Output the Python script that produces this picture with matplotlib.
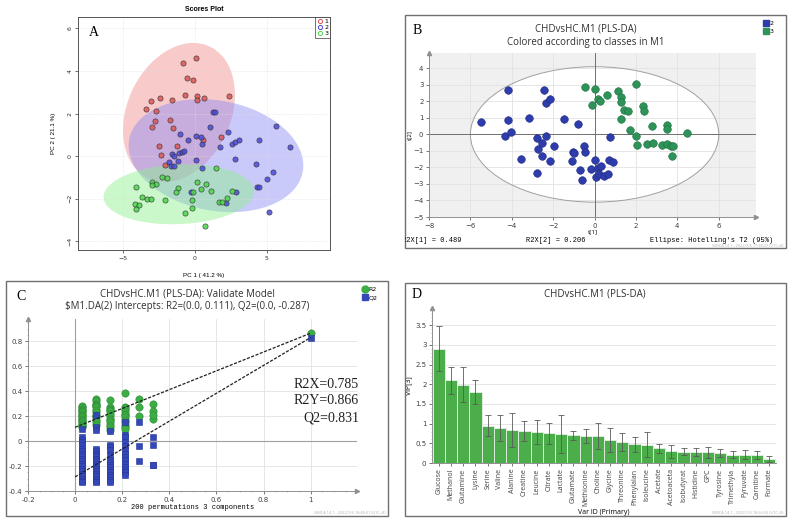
import numpy as np
import matplotlib
matplotlib.use("Agg")
import matplotlib.pyplot as plt
from matplotlib.patches import Rectangle, Polygon, Ellipse
from matplotlib.lines import Line2D
from matplotlib.ticker import MultipleLocator

W, H = 792, 522

# ---------------- Panel A: PCA scores ----------------
a_x1 = [-0.81, 0.07, -0.51, -0.09, -0.69, 0.19, 0.63, 0.14, 2.38, -3.06, -2.41, -1.57,
        -3.40, -2.71, -1.69, -2.78, -2.99, -1.48, 1.81, 0.60, -2.48, -1.25, -2.34, -2.06]
a_y1 = [4.38, 4.63, 3.67, 3.59, 2.85, 2.81, 2.75, 2.62, 2.82, 2.57, 2.73, 2.62,
        2.21, 2.13, 1.71, 1.66, 1.36, 1.30, 0.89, 0.77, 0.47, 0.47, 0.06, -0.42]
a_x2 = [1.30, 1.41, 1.09, -1.04, 0.12, 0.46, -0.44, 0.49, 2.29, 2.59, 2.82, 3.06, 1.76,
        4.47, 5.63, 6.64, -1.55, -1.41, -1.11, -0.88, -0.76, -1.78, -1.67, -1.41, -1.16,
        0.09, 0.51, 2.82, 4.26, 5.42, 5.05, 4.35, 4.47, 2.85, -0.28, 2.20, 5.19]
a_y2 = [2.07, 2.07, 1.35, 1.02, 0.93, 0.88, 0.74, 0.56, 1.13, 0.55, 0.67, 0.75, 0.41,
        0.74, 1.43, 0.41, 0.09, 0.02, 0.13, 0.19, 0.24, -0.27, -0.47, -0.47, -0.25,
        -0.17, -0.55, -0.13, -0.38, -0.77, -1.10, -1.46, -1.46, -1.68, -1.68, -2.23, -2.62]
a_x3 = [1.46, -2.25, -1.94, -2.94, -2.71, -2.99, -4.05, 0.16, 0.79, -1.18, 0.44, -1.27,
        -0.12, 1.16, 2.62, -3.68, -3.29, -3.06, -2.06, -0.16, 2.27, 1.67, 1.88, -4.17,
        -3.87, -4.05, -0.19, -0.69, 0.69]
a_y3 = [-0.58, -1.00, -1.02, -1.22, -1.33, -1.38, -1.47, -1.24, -1.33, -1.49, -1.55, -1.71,
        -1.71, -1.66, -1.65, -1.91, -2.01, -2.01, -2.07, -2.05, -1.96, -2.15, -2.15, -2.27,
        -2.31, -2.49, -2.43, -2.68, -3.31]
# confidence ellipses: centre and two semi-axis vectors
a_ell_c = [(-1.09, 2.05), (1.48, 0.02), (-1.09, -1.80)]
a_ell_u = [(2.13, 3.10), (6.02, -0.78), (5.23, 0.16)]
a_ell_v = [(3.25, -1.03), (0.74, 2.54), (-0.12, 1.40)]

# ---------------- Panel B: PLS-DA scores ----------------
b_x2 = [-5.50, -4.19, -4.16, -4.32, -4.05, -3.16, -3.56, -2.79, -2.76, -2.73, -2.56, -2.52,
        -2.35, -2.44, -2.35, -2.16, -2.15, -1.97, -1.50, -1.06, -1.00, -1.11, -0.81, -0.69,
        -0.60, -0.50, -0.44, -0.15, 0.00, 0.06, 0.16, 0.31, 0.21, 0.45, 0.65, 0.76, 0.71, 0.90]
b_y2 = [0.77, 2.70, 0.85, -0.08, 0.16, 0.99, -1.46, -2.33, -0.24, -0.91, -1.32, -0.49,
        -0.10, 2.66, 1.93, 2.17, -1.58, -0.73, 0.93, -1.05, -1.12, -1.60, 0.65, -2.15,
        -2.76, -0.69, -1.05, -2.07, -1.52, -2.60, -2.01, -1.91, -2.37, -2.49, -2.37, -0.16,
        -1.52, -1.64]
b_x3 = [-0.44, 0.03, 0.15, 0.24, -0.13, 0.58, 1.11, 1.29, 1.29, 1.40, 1.63, 1.27, 2.00,
        2.34, 2.39, 1.73, 1.98, 2.05, 2.52, 2.81, 2.77, 3.24, 3.48, 3.50, 3.52, 3.68, 3.77,
        3.76, 4.47]
b_y3 = [2.86, 2.74, 2.17, 2.05, 1.81, 2.39, 2.64, 2.25, 1.97, 1.48, 1.42, 0.93, 3.08,
        1.70, 1.40, 0.24, -0.08, -0.67, -0.59, -0.49, 0.51, -0.63, 0.57, 0.30, -0.59, -0.69,
        -0.73, -1.30, 0.06]
b_t2_a, b_t2_b = 6.0, 4.1   # Hotelling T2 ellipse half-axes

# ---------------- Panel C: permutation test ----------------
c_cols = [0.03, 0.09, 0.15, 0.21, 0.27, 0.33]
c_r2 = [
    [0.28, 0.27, 0.26, 0.25, 0.24, 0.23, 0.22, 0.21, 0.20, 0.19, 0.18, 0.17, 0.16, 0.15, 0.14, 0.13, 0.12, 0.11],
    [0.34, 0.32, 0.30, 0.29, 0.28, 0.27, 0.25, 0.23, 0.21, 0.20, 0.19, 0.17, 0.15, 0.13],
    [0.33, 0.27, 0.26, 0.25, 0.24, 0.22, 0.20, 0.18, 0.17, 0.15, 0.13, 0.11, 0.09],
    [0.39, 0.27, 0.26, 0.24, 0.22, 0.21, 0.19, 0.17, 0.15, 0.13, 0.11, 0.10],
    [0.34, 0.27, 0.20],
    [0.30, 0.24, 0.18, 0.21],
]
c_q2 = [
    [0.10, 0.03, 0.01, -0.01, -0.03, -0.06, -0.08, -0.10, -0.12, -0.14, -0.16, -0.18, -0.20,
     -0.22, -0.24, -0.26, -0.28, -0.30, -0.32, -0.33],
    [0.21, 0.11, 0.09, -0.06, -0.08, -0.10, -0.12, -0.14, -0.16, -0.18, -0.20, -0.22, -0.24,
     -0.26, -0.28, -0.30, -0.32, -0.33],
    [0.08, -0.03, -0.05, -0.07, -0.11, -0.15, -0.17, -0.19, -0.21, -0.23, -0.25, -0.27, -0.29,
     -0.31, -0.33],
    [0.15, 0.05, 0.03, -0.01, -0.04, -0.07, -0.10, -0.13, -0.15, -0.18, -0.21, -0.23, -0.25, -0.27],
    [0.155, -0.04, -0.16],
    [0.03, -0.03, -0.19, -0.19],
]
c_r2_model, c_q2_model = 0.866, 0.831
c_r2_int, c_q2_int = 0.111, -0.287

# ---------------- Panel D: VIP ----------------
d_names = ["Glucose", "Methanol", "Glutamine", "Lysine", "Serine", "Valine", "Alanine",
           "Creatine", "Leucine", "Citrate", "Lactate", "Glutamate", "Methionine", "Choline",
           "Glycine", "Threonine", "Phenylalan", "Isoleucine", "Acetate", "Acetoaceta",
           "Isobutyrat", "Histidine", "GPC", "Tyrosine", "Trimethyla", "Pyruvate",
           "Carnitine", "Formate"]
d_vip = [2.90, 2.10, 1.99, 1.80, 0.95, 0.89, 0.84, 0.81, 0.79, 0.75, 0.73, 0.70, 0.69, 0.69,
         0.58, 0.53, 0.48, 0.47, 0.37, 0.30, 0.29, 0.28, 0.27, 0.25, 0.21, 0.21, 0.20, 0.11]
d_err = [0.57, 0.34, 0.45, 0.30, 0.26, 0.34, 0.44, 0.25, 0.31, 0.27, 0.48, 0.11, 0.17, 0.33,
         0.31, 0.23, 0.19, 0.32, 0.12, 0.17, 0.08, 0.09, 0.145, 0.10, 0.085, 0.11, 0.10, 0.08]


def px_box(l, t, r, b):
    return [l / W, 1 - b / H, (r - l) / W, (b - t) / H]


def fx(x):
    return x / W


def fy(y):
    return 1 - y / H


fig = plt.figure(figsize=(W / 100, H / 100), dpi=100)
simca = "Open Sans"
mono = "Liberation Mono"
serif = "Liberation Serif"

# outer frames of B, C, D
frames = {}
for key, (l, t, r, b) in {"B": (405, 15, 786, 248), "C": (6, 281, 388, 516),
                          "D": (405, 283, 786, 516)}.items():
    rect = Rectangle((fx(l), fy(b)), (r - l) / W, (b - t) / H, transform=fig.transFigure,
                     fill=False, edgecolor="#707070", lw=1.0)
    fig.patches.append(rect)
    frames[key] = rect

# ======== A ========
axA = fig.add_axes(px_box(78, 17, 330, 250))
t = np.linspace(0, 2 * np.pi, 200)
fills = ["#f08a8a", "#8a8af5", "#8af08a"]
for (cx, cy), u, v, col in zip(a_ell_c, a_ell_u, a_ell_v, fills):
    pts = np.column_stack([cx + np.cos(t) * u[0] + np.sin(t) * v[0],
                           cy + np.cos(t) * u[1] + np.sin(t) * v[1]])
    axA.add_patch(Polygon(pts, closed=True, facecolor=col, alpha=0.45, edgecolor="none"))
pt_cols = ["#e05555", "#4a4ae0", "#4ad84a"]
for xs, ys, col in zip([a_x1, a_x2, a_x3], [a_y1, a_y2, a_y3], pt_cols):
    axA.scatter(xs, ys, s=14, facecolor=col, edgecolor="#333333", lw=0.5, alpha=0.85, zorder=3)
axA.set_xlim(-8.1, 9.4)
axA.set_ylim(-4.42, 6.54)
axA.set_xticks([-5, 0, 5])
axA.set_yticks([-4, -2, 0, 2, 4, 6])
axA.grid(True, color="#dddddd", lw=0.5, ls=":")
axA.tick_params(labelsize=4.5, length=2, width=0.5, colors="#333333", pad=2)
for lbl in axA.get_yticklabels():
    lbl.set_rotation(90)
    lbl.set_va("center")
for s in axA.spines.values():
    s.set_color("#555555")
    s.set_linewidth(0.7)
axA.set_xlabel("PC 1 ( 41.2 %)", fontsize=4.5, labelpad=9, family="Liberation Sans")
axA.set_ylabel("PC 2 ( 21.1 %)", fontsize=4.5, labelpad=8, family="Liberation Sans")
axA.set_title("Scores Plot", fontsize=5, fontweight="bold", pad=4, family="Liberation Sans")
hA = [Line2D([], [], marker="o", ls="none", mfc="none", mec=c, ms=3, mew=0.7) for c in pt_cols]
legA = axA.legend(hA, ["1", "2", "3"], loc="upper right", fontsize=4.5, frameon=True,
                  fancybox=False, edgecolor="#333333", handlelength=0.8, handletextpad=0.3,
                  borderpad=0.3, labelspacing=0.1, borderaxespad=0)
legA.get_frame().set_linewidth(0.6)
axA.text(0.045, 0.935, "A", transform=axA.transAxes, fontsize=10, family=serif, va="center")

# ======== B ========
axB = fig.add_axes(px_box(429, 53, 756, 217))
axB.set_facecolor("#f0f0f0")
axB.add_patch(Ellipse((0, 0), 2 * b_t2_a, 2 * b_t2_b, facecolor="white", edgecolor="none",
                      zorder=0.2))
axB.add_patch(Ellipse((0, 0), 2 * b_t2_a, 2 * b_t2_b, facecolor="none", edgecolor="#a0a0a0",
                      lw=0.7, zorder=1))
axB.axhline(0, color="#707070", lw=0.7, zorder=2)
axB.axvline(0, color="#707070", lw=0.7, zorder=2)
axB.scatter(b_x2, b_y2, s=30, marker="o", facecolor="#2f3cab", edgecolor="#1f2a80",
            lw=0.4, zorder=3)
axB.scatter(b_x3, b_y3, s=30, marker="o", facecolor="#2e9358", edgecolor="#1f7040",
            lw=0.4, zorder=3)
axB.set_xlim(-8, 7.8)
axB.set_ylim(-5, 4.93)
axB.set_xticks(range(-8, 7, 2))
axB.set_yticks(range(-5, 5))
axB.grid(True, color="#e2e2e2", lw=0.6)
axB.set_axisbelow(True)
axB.tick_params(labelsize=5, length=2, width=0.5, colors="#404040", pad=2)
for s in ["top", "right"]:
    axB.spines[s].set_visible(False)
for s in ["left", "bottom"]:
    axB.spines[s].set_color("#909090")
    axB.spines[s].set_linewidth(0.7)
axB.plot(1, 0, ">", transform=axB.transAxes, clip_on=False, color="#909090", ms=3)
axB.plot(0, 1, "^", transform=axB.transAxes, clip_on=False, color="#909090", ms=3)
axB.set_xlabel("t[1]", fontsize=4.5, labelpad=0.5, family=simca)
axB.set_ylabel("t[2]", fontsize=4.5, labelpad=1, family=simca)
fig.text(fx(586), fy(29), "CHDvsHC.M1 (PLS-DA)", fontsize=7, ha="center", va="center",
         family=simca, color="#303030")
fig.text(fx(586), fy(42), "Colored according to classes in M1", fontsize=7, ha="center",
         va="center", family=simca, color="#303030")
fig.text(fx(417), fy(30), "B", fontsize=10, family=serif, ha="center", va="center")
fig.legend([Line2D([], [], marker="s", ls="none", color="#2f3cab", ms=5),
            Line2D([], [], marker="s", ls="none", color="#2e9358", ms=5)], ["2", "3"],
           loc="upper left", bbox_to_anchor=(fx(763), fy(21)), fontsize=4.5,
           frameon=False, handlelength=0.8, handletextpad=0.2, labelspacing=0.4,
           borderpad=0, borderaxespad=0)
tb = fig.text(fx(401.5), fy(241), "R2X[1] = 0.489", fontsize=5, family=mono, va="center")
tb.set_clip_path(frames["B"])
fig.text(fx(526), fy(241), "R2X[2] = 0.206", fontsize=5, family=mono, va="center")
fig.text(fx(773), fy(241), "Ellipse: Hotelling's T2 (95%)", fontsize=5, family=mono,
         va="center", ha="right")
fig.text(fx(784), fy(246), "SIMCA 14.1 - 2022/7/6 17:28:27 (UTC+8)", fontsize=2.8,
         color="#b0b0b0", ha="right", va="center", family=simca)

# ======== C ========
axC = fig.add_axes(px_box(28, 319, 357, 491))
axC.axhline(0, color="#a0a0a0", lw=0.8, zorder=1)
axC.axvline(0, color="#a0a0a0", lw=0.8, zorder=1)
for xc, vals in zip(c_cols, c_r2):
    axC.scatter([xc] * len(vals), vals, s=28, marker="o", facecolor="#3cae45",
                edgecolor="#2d8a35", lw=0.4, zorder=3)
for xc, vals in zip(c_cols, c_q2):
    axC.scatter([xc] * len(vals), vals, s=20, marker="s", facecolor="#3448b8",
                edgecolor="#24349a", lw=0.4, zorder=4)
axC.scatter([1], [c_r2_model], s=28, marker="o", facecolor="#3cae45", edgecolor="#2d8a35",
            lw=0.4, zorder=3)
axC.scatter([1], [c_q2_model], s=20, marker="s", facecolor="#3448b8", edgecolor="#24349a",
            lw=0.4, zorder=4)
axC.plot([0, 1], [c_r2_int, c_r2_model], ls=(0, (2.5, 1.2)), color="#202020", lw=0.9, zorder=5)
axC.plot([0, 1], [c_q2_int, c_q2_model], ls=(0, (2.5, 1.2)), color="#202020", lw=0.9, zorder=5)
axC.set_xlim(-0.2, 1.197)
axC.set_ylim(-0.4, 0.98)
axC.set_xticks([-0.2, 0, 0.2, 0.4, 0.6, 0.8, 1])
axC.set_xticklabels(["-0.2", "0", "0.2", "0.4", "0.6", "0.8", "1"])
axC.set_yticks([-0.4, -0.2, 0, 0.2, 0.4, 0.6, 0.8])
axC.set_yticklabels(["-0.4", "-0.2", "0", "0.2", "0.4", "0.6", "0.8"])
axC.xaxis.set_minor_locator(MultipleLocator(0.05))
axC.yaxis.set_minor_locator(MultipleLocator(0.05))
axC.grid(True, color="#e2e2e2", lw=0.6, zorder=0)
axC.set_axisbelow(True)
axC.tick_params(labelsize=5, length=2, width=0.5, colors="#404040", pad=2)
axC.tick_params(which="minor", length=1, width=0.4, colors="#909090")
for s in ["top", "right"]:
    axC.spines[s].set_visible(False)
for s in ["left", "bottom"]:
    axC.spines[s].set_color("#909090")
    axC.spines[s].set_linewidth(0.7)
axC.plot(1, 0, ">", transform=axC.transAxes, clip_on=False, color="#909090", ms=3)
axC.plot(0, 1, "^", transform=axC.transAxes, clip_on=False, color="#909090", ms=3)
axC.set_xlabel("200 permutations 3 components", fontsize=5, labelpad=1, family=mono)
fig.text(fx(187), fy(294), "CHDvsHC.M1 (PLS-DA): Validate Model", fontsize=7, ha="center",
         va="center", family=simca, color="#303030")
fig.text(fx(187), fy(306), "$M1.DA(2) Intercepts: R2=(0.0, 0.111), Q2=(0.0, -0.287)",
         fontsize=7, ha="center", va="center", family=simca, color="#303030")
fig.text(fx(21), fy(297), "C", fontsize=10, family=serif, ha="center", va="center")
for yy, s in zip([384, 401, 418], ["R2X=0.785", "R2Y=0.866", "Q2=0.831"]):
    fig.text(fx(359), fy(yy), s, fontsize=10, family=serif, ha="right", va="center",
             color="#202020")
fig.legend([Line2D([], [], marker="o", ls="none", color="#3cae45", ms=5),
            Line2D([], [], marker="s", ls="none", color="#3448b8", ms=4.5)], ["R2", "Q2"],
           loc="upper left", bbox_to_anchor=(fx(362), fy(287)), fontsize=4.5, frameon=False,
           handlelength=0.8, handletextpad=0.2, labelspacing=0.4, borderpad=0, borderaxespad=0)
fig.text(fx(386), fy(513), "SIMCA 14.1 - 2022/7/6 18:48:01 (UTC+8)", fontsize=2.8,
         color="#b0b0b0", ha="right", va="center", family=simca)

# ======== D ========
axD = fig.add_axes(px_box(432, 308, 776, 463))
xs = np.arange(len(d_names))
axD.bar(xs, d_vip, width=1.0, color="#4bae4b", edgecolor="#e8f0e8", lw=0.6, zorder=2)
axD.errorbar(xs, d_vip, yerr=d_err, fmt="none", ecolor="#5a5a5a", elinewidth=0.6, capsize=2,
             capthick=0.6, zorder=3)
axD.set_xlim(-0.55, len(d_names) - 0.45)
axD.set_ylim(0, 3.94)
axD.set_yticks([0, 0.5, 1, 1.5, 2, 2.5, 3, 3.5])
axD.set_yticklabels(["0", "0.5", "1", "1.5", "2", "2.5", "3", "3.5"])
axD.yaxis.set_minor_locator(MultipleLocator(0.1))
axD.set_xticks(xs)
axD.set_xticklabels(d_names, rotation=90, fontsize=5, family=simca)
axD.yaxis.grid(True, color="#e2e2e2", lw=0.6, zorder=0)
axD.set_axisbelow(True)
axD.tick_params(axis="y", labelsize=5, length=2, width=0.5, colors="#404040", pad=2)
axD.tick_params(axis="y", which="minor", length=1, width=0.4, colors="#909090")
axD.tick_params(axis="x", length=2, width=0.5, colors="#404040", pad=2)
for s in ["top", "right"]:
    axD.spines[s].set_visible(False)
for s in ["left", "bottom"]:
    axD.spines[s].set_color("#909090")
    axD.spines[s].set_linewidth(0.7)
axD.plot(0, 1, "^", transform=axD.transAxes, clip_on=False, color="#909090", ms=3)
axD.set_xlabel("Var ID (Primary)", fontsize=5, labelpad=2, family=simca)
axD.set_ylabel("VIP[3]", fontsize=5, labelpad=2, family=simca)
fig.text(fx(595), fy(294), "CHDvsHC.M1 (PLS-DA)", fontsize=7, ha="center", va="center",
         family=simca, color="#303030")
fig.text(fx(417), fy(294), "D", fontsize=10, family=serif, ha="center", va="center")
fig.text(fx(784), fy(513), "SIMCA 14.1 - 2022/7/6 18:56:50 (UTC+8)", fontsize=2.8,
         color="#b0b0b0", ha="right", va="center", family=simca)

fig.savefig("out.png", dpi=100)
